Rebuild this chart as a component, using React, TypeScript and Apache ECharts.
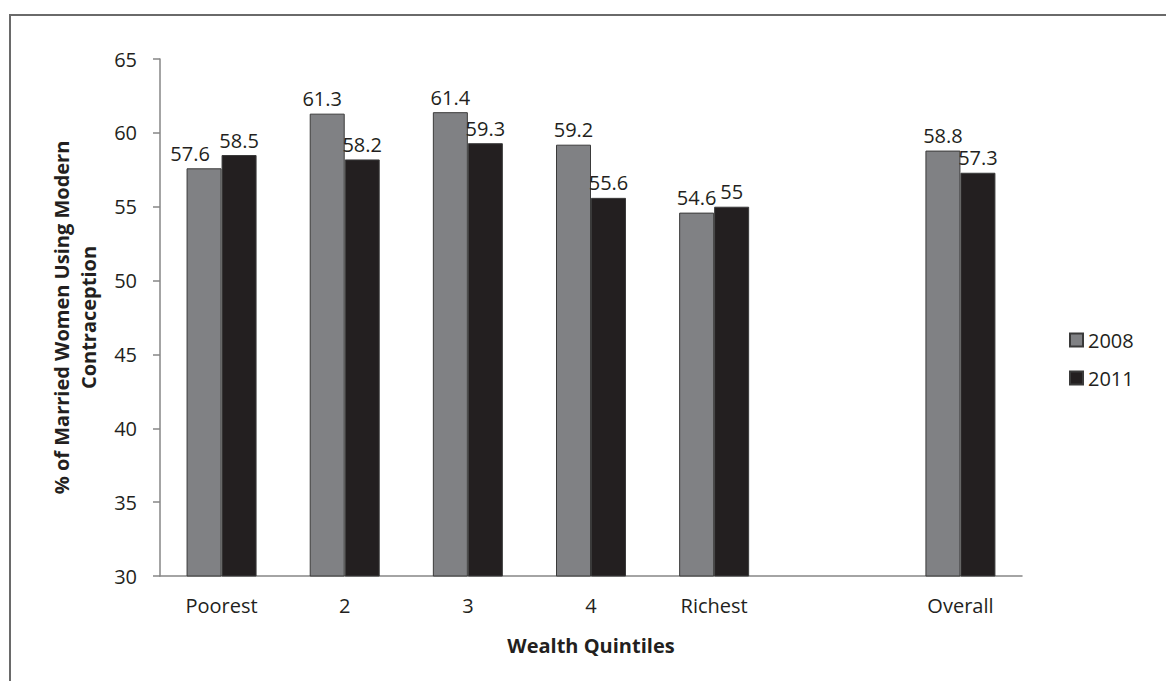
import React, { useEffect, useRef } from "react";
import * as echarts from "echarts";

const categories = ["Poorest", "2", "3", "4", "Richest", "", "Overall"];
const values2008: (number | null)[] = [57.6, 61.3, 61.4, 59.2, 54.6, null, 58.8];
const values2011: (number | null)[] = [58.5, 58.2, 59.3, 55.6, 55, null, 57.3];
const seriesNames = ["2008", "2011"];
// horizontal nudges for value labels that would otherwise crowd their neighbour
const labelShift2008 = [-14, -5, 0, 0, 0, 0, 0];

const FONT = "'Open Sans', 'Noto Sans', sans-serif";
const TEXT = "#231f20";
const FS = 20;

export default function App() {
  const ref = useRef<HTMLDivElement>(null);

  useEffect(() => {
    if (!ref.current) return;
    const chart = echarts.init(ref.current, null, { renderer: "svg" });

    const labelStyle = {
      show: true,
      position: "top" as const,
      distance: 5,
      color: TEXT,
      fontFamily: FONT,
      fontSize: FS,
    };

    const data2008 = values2008.map((v, i) =>
      v === null
        ? "-"
        : labelShift2008[i]
        ? { value: v, label: { offset: [labelShift2008[i], 0] } }
        : v
    );
    const data2011 = values2011.map((v) => (v === null ? "-" : v));

    chart.setOption({
      animation: false,
      backgroundColor: "#ffffff",
      textStyle: { fontFamily: FONT },
      grid: { left: 160, right: 144, top: 59, bottom: 105, containLabel: false },
      legend: {
        orient: "vertical",
        left: 1064,
        top: 325,
        itemWidth: 13,
        itemHeight: 13,
        itemGap: 18,
        icon: "rect",
        textStyle: { color: TEXT, fontFamily: FONT, fontSize: FS },
        data: seriesNames,
      },
      xAxis: {
        type: "category",
        data: categories,
        name: "Wealth Quintiles",
        nameLocation: "middle",
        nameGap: 59,
        nameTextStyle: { color: TEXT, fontFamily: FONT, fontSize: FS, fontWeight: "bold" },
        axisLine: { show: true, lineStyle: { color: "#868686", width: 1.5 } },
        axisTick: { show: false },
        axisLabel: { color: TEXT, fontFamily: FONT, fontSize: FS, margin: 19, interval: 0 },
        splitLine: { show: false },
      },
      yAxis: {
        type: "value",
        min: 30,
        max: 65,
        interval: 5,
        name: "% of Married Women Using Modern\nContraception",
        nameLocation: "middle",
        nameGap: 58,
        nameTextStyle: {
          color: TEXT,
          fontFamily: FONT,
          fontSize: FS,
          fontWeight: "bold",
          lineHeight: 27,
        },
        axisLine: { show: true, lineStyle: { color: "#868686", width: 1.5 } },
        axisTick: { show: true, length: 7, lineStyle: { color: "#868686", width: 1.5 } },
        axisLabel: { color: TEXT, fontFamily: FONT, fontSize: FS, margin: 23 },
        splitLine: { show: false },
      },
      series: [
        {
          name: seriesNames[0],
          type: "bar",
          data: data2008,
          barWidth: 35,
          barGap: "0%",
          itemStyle: { color: "#808184", borderColor: "#3a3a3a", borderWidth: 1 },
          label: labelStyle,
        },
        {
          name: seriesNames[1],
          type: "bar",
          data: data2011,
          barWidth: 35,
          barGap: "0%",
          itemStyle: { color: "#231f20", borderColor: "#3a3a3a", borderWidth: 1 },
          label: labelStyle,
        },
      ],
      graphic: [
        {
          type: "line",
          shape: { x1: 9, y1: 15, x2: 1166, y2: 15 },
          style: { stroke: "#6a6a6a", lineWidth: 2 },
        },
        {
          type: "line",
          shape: { x1: 10, y1: 15, x2: 10, y2: 681 },
          style: { stroke: "#6a6a6a", lineWidth: 2 },
        },
      ],
    });

    return () => chart.dispose();
  }, []);

  return (
    <div
      ref={ref}
      style={{ position: "fixed", left: 0, top: 0, width: 1166, height: 681 }}
    />
  );
}
